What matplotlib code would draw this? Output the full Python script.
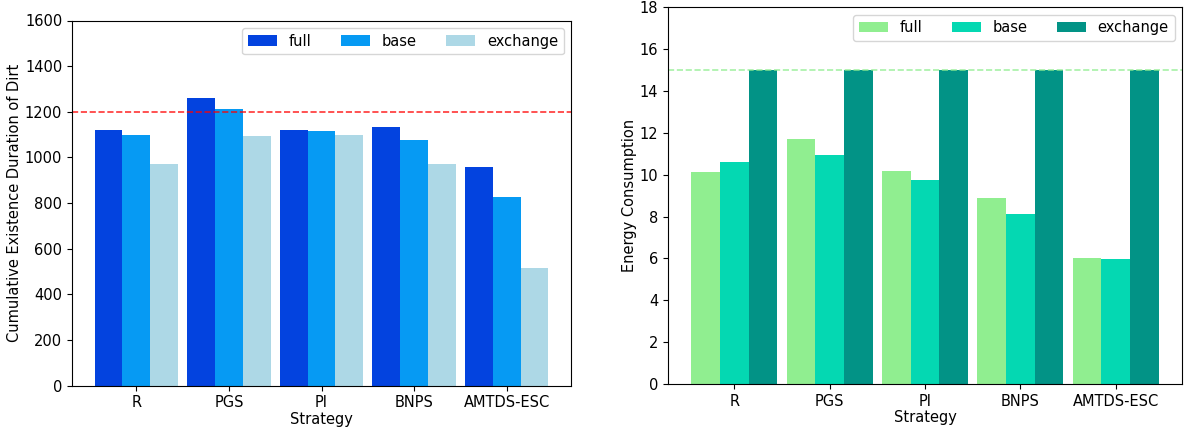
import numpy as np
import matplotlib
matplotlib.use("Agg")
import matplotlib.pyplot as plt

strategies = ["R", "PGS", "PI", "BNPS", "AMTDS-ESC"]
series_names = ["full", "base", "exchange"]

dirt_full = [1119, 1262, 1118, 1135, 958]
dirt_base = [1097, 1212, 1115, 1077, 827]
dirt_exchange = [971, 1094, 1098, 970, 515]
dirt_limit = 1200

energy_full = [10.11, 11.69, 10.16, 8.90, 6.04]
energy_base = [10.59, 10.94, 9.75, 8.12, 5.99]
energy_exchange = [15.0, 15.0, 15.0, 15.0, 15.0]
energy_limit = 15

BLUES = ["#0343df", "#069af3", "#add8e6"]
GREENS = ["#90ee90", "#04d8b2", "#029386"]

FONT = 10.5
WIDTH = 0.3


def draw_panel(ax, values, colors, ylabel, limit, limit_color, ylim, step):
    x = np.arange(len(strategies))
    for i, (vals, name) in enumerate(zip(values, series_names)):
        ax.bar(x + (i - 1) * WIDTH, vals, WIDTH, color=colors[i], label=name)
    ax.axhline(limit, color=limit_color, linestyle="--", linewidth=1.2, alpha=0.8)
    ax.set_xticks(x)
    ax.set_xticklabels(strategies, fontsize=FONT)
    ax.set_ylim(*ylim)
    ax.set_yticks(np.arange(ylim[0], ylim[1] + step / 2, step))
    ax.tick_params(axis="y", labelsize=FONT)
    ax.set_xlabel("Strategy", fontsize=FONT, labelpad=1)
    ax.set_ylabel(ylabel, fontsize=FONT, labelpad=2)
    ax.legend(loc="upper right", ncol=3, fontsize=FONT)


fig = plt.figure(figsize=(11.84, 4.32), dpi=100)
ax1 = fig.add_axes([72 / 1184, 46.5 / 432, 499 / 1184, 365 / 432])
ax2 = fig.add_axes([668 / 1184, 48 / 432, 514 / 1184, 376.7 / 432])

draw_panel(ax1, [dirt_full, dirt_base, dirt_exchange], BLUES,
           "Cumulative Existence Duration of Dirt", dirt_limit, "red",
           (0, 1600), 200)
draw_panel(ax2, [energy_full, energy_base, energy_exchange], GREENS,
           "Energy Consumption", energy_limit, "lightgreen",
           (0, 18), 2)

fig.savefig("out.png", dpi=100)
